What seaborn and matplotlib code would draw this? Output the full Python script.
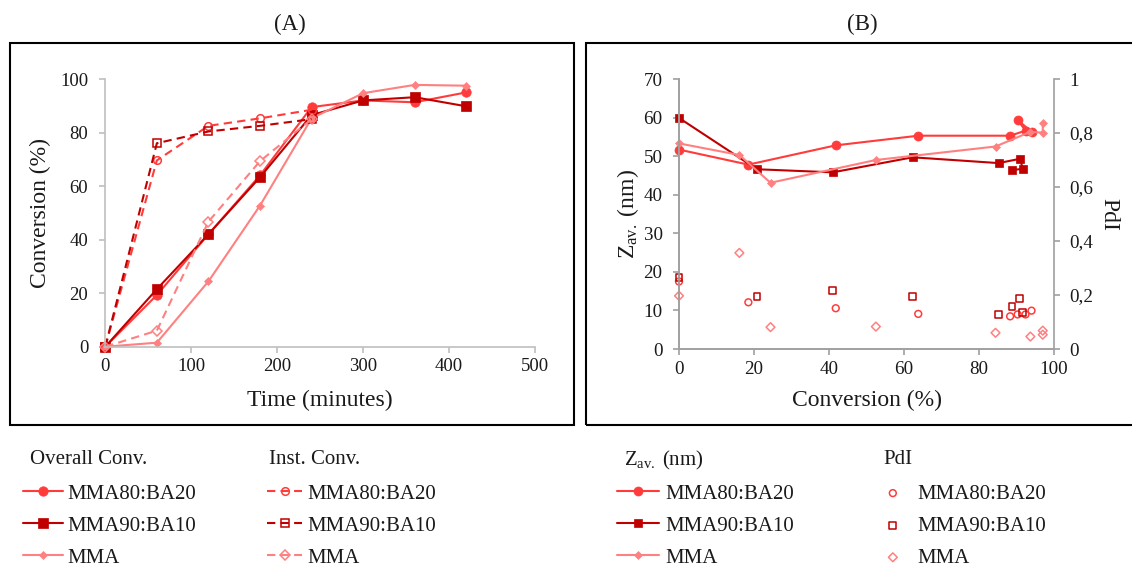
import numpy as np
import pandas as pd
import matplotlib
matplotlib.use("Agg")
import matplotlib.pyplot as plt
import seaborn as sns
from matplotlib.patches import Rectangle

# ---------------- data ----------------
# Panel A: conversion vs time
time_min = [0, 60, 120, 180, 240, 300, 360, 420]
overall_80 = [0, 19.3, 42, 64, 89.5, 92, 91.3, 95]
overall_90 = [0, 21.5, 42, 63.3, 86.5, 92, 93.2, 89.8]
overall_mma = [0, 1.5, 24.4, 52.7, 85.3, 94.7, 97.8, 97.5]

time_inst = [0, 60, 120, 180, 240]
inst_80 = [0, 69.6, 82.5, 85.3, 88.5]
inst_90 = [0, 76, 80.4, 82.5, 85]
inst_mma = [0, 6, 46.7, 69.3, 85]

# Panel B: particle size and PdI vs conversion
conv_80 = [0, 18.5, 41.8, 63.8, 88.3, 92.4, 90.3, 94.0]
zav_80 = [51.7, 47.8, 52.8, 55.3, 55.3, 56.6, 59.4, 56.3]
pdi_80 = [0.25, 0.173, 0.151, 0.130, 0.121, 0.128, 0.128, 0.142]

conv_90 = [0, 20.8, 41, 62.3, 85.2, 90.9, 91.7, 88.8]
zav_90 = [59.9, 46.6, 45.8, 49.7, 48.2, 49.3, 46.7, 46.4]
pdi_90 = [0.266, 0.194, 0.216, 0.194, 0.128, 0.186, 0.134, 0.157]

conv_mma = [0, 16.1, 24.4, 52.5, 84.4, 93.7, 97, 97]
zav_mma = [53.3, 50.3, 43.1, 49, 52.5, 56.3, 56.1, 58.5]
pdi_mma = [0.197, 0.356, 0.081, 0.083, 0.060, 0.046, 0.053, 0.068]

series_labels = ["MMA80:BA20", "MMA90:BA10", "MMA"]
pdi_ticks = [0, 0.2, 0.4, 0.6, 0.8, 1.0]
pdi_tick_labels = ["0", "0,2", "0,4", "0,6", "0,8", "1"]

# ---------------- style ----------------
sns.set_style("white")
plt.rcParams["font.family"] = ["Liberation Serif", "DejaVu Serif"]
plt.rcParams["mathtext.fontset"] = "custom"
plt.rcParams["mathtext.rm"] = "Liberation Serif"
plt.rcParams["mathtext.it"] = "Liberation Serif:italic"

C80 = "#FF3B3B"
C90 = "#C00000"
CMMA = "#FF8080"
TXT = "#1a1a1a"

fig = plt.figure(figsize=(11.32, 5.66), dpi=100)

# panel frames
fig.patches.append(Rectangle((9.5 / 1132, 1 - 424.5 / 566), (574 - 9.5) / 1132, (424.5 - 43) / 566,
                             transform=fig.transFigure, fill=False, edgecolor="black", linewidth=1.5, zorder=0))
fig.patches.append(Rectangle((585.5 / 1132, 1 - 424.5 / 566), 0.6, (424.5 - 43) / 566,
                             transform=fig.transFigure, fill=False, edgecolor="black", linewidth=1.5, zorder=0))

axA = fig.add_axes([105.3 / 1132, 1 - 346.7 / 566, 429.7 / 1132, 267.7 / 566])
axB = fig.add_axes([679 / 1132, 1 - 349 / 566, 375 / 1132, 270 / 566])
axB2 = axB.twinx()
for a in (axA, axB, axB2):
    a.set_facecolor("none")


def line(ax, x, y, color, marker, ms, ls="-", open_=False):
    kw = dict(x=x, y=y, ax=ax, color=color, marker=marker, markersize=ms, linewidth=1.5,
              linestyle=ls, sort=False, estimator=None, markeredgecolor=color,
              markeredgewidth=1.1 if open_ else 0.5, clip_on=False)
    if open_:
        kw["markerfacecolor"] = "none"
    sns.lineplot(**kw)


dash = (0, (4, 2.5))
# ----- Panel A -----
line(axA, time_min, overall_80, C80, "o", 6.8)
line(axA, time_min, overall_90, C90, "s", 6.5)
line(axA, time_min, overall_mma, CMMA, "D", 4.3)
line(axA, time_inst, inst_80, C80, "o", 5.5, ls=dash, open_=True)
line(axA, time_inst, inst_90, C90, "s", 5.2, ls=dash, open_=True)
line(axA, time_inst, inst_mma, CMMA, "D", 4.8, ls=dash, open_=True)

axA.set_xlim(0, 500)
axA.set_ylim(0, 100)
axA.set_xticks([0, 100, 200, 300, 400, 500])
axA.set_yticks([0, 20, 40, 60, 80, 100])
for s in ["top", "right"]:
    axA.spines[s].set_visible(False)
for s in ["left", "bottom"]:
    axA.spines[s].set_color("#BFBFBF")
    axA.spines[s].set_linewidth(1.2)
axA.tick_params(axis="both", labelsize=13.5, colors="#BFBFBF", labelcolor=TXT, length=4.3, width=1.2,
                direction="out")
axA.tick_params(axis="y", pad=8, left=True)
axA.tick_params(axis="x", pad=3.5, bottom=True)
axA.set_xlabel("Time (minutes)", fontsize=17, color=TXT)
axA.set_ylabel("Conversion (%)", fontsize=17, color=TXT)
axA.xaxis.set_label_coords(0.5, -0.199)
axA.xaxis.label.set_va("center")
axA.yaxis.set_label_coords(-0.152, 0.5)
axA.yaxis.label.set_va("center")

# ----- Panel B -----
line(axB, conv_80, zav_80, C80, "o", 6.5)
line(axB, conv_90, zav_90, C90, "s", 6)
line(axB, conv_mma, zav_mma, CMMA, "D", 4)

for xs, ys, c, m, sz in [(conv_80, pdi_80, C80, "o", 24), (conv_90, pdi_90, C90, "s", 24),
                         (conv_mma, pdi_mma, CMMA, "D", 20)]:
    sns.scatterplot(x=xs, y=ys, ax=axB2, marker=m, s=sz, color=c, facecolor="none",
                    edgecolor=c, linewidth=1.1, clip_on=False, legend=False)

axB.set_xlim(0, 100)
axB.set_ylim(0, 70)
axB.set_xticks([0, 20, 40, 60, 80, 100])
axB.set_yticks(range(0, 71, 10))
axB2.set_ylim(0, 1)
axB2.set_yticks(pdi_ticks)
axB2.set_yticklabels(pdi_tick_labels)
for a in (axB, axB2):
    a.spines["top"].set_visible(False)
    for s in ["left", "bottom", "right"]:
        a.spines[s].set_color("#A0A0A0")
        a.spines[s].set_linewidth(1.2)
axB.spines["right"].set_visible(False)
axB.tick_params(axis="both", labelsize=13.7, colors="#A0A0A0", labelcolor=TXT, length=4.3, width=1.2,
                direction="out")
axB.tick_params(axis="y", pad=7.5, left=True)
axB.tick_params(axis="x", pad=4, bottom=True)
axB2.tick_params(axis="y", labelsize=13.7, colors="#A0A0A0", labelcolor=TXT, length=4.3, width=1.2,
                 direction="out", pad=7, right=True)
zav_label = r"$\mathrm{Z}_{\mathrm{av.}}\ \mathrm{(nm)}$"
axB.set_xlabel("Conversion (%)", fontsize=17, color=TXT)
axB.set_ylabel(zav_label, fontsize=17, color=TXT)
axB.xaxis.set_label_coords(0.5, -0.19)
axB.xaxis.label.set_va("center")
axB.yaxis.set_label_coords(-0.136, 0.5)
axB.yaxis.label.set_va("center")
axB2.set_ylabel("PdI", fontsize=17, color=TXT, rotation=270)
axB2.yaxis.set_label_coords(1.147, 0.5)
axB2.yaxis.label.set_va("center")

# titles
fig.text(290 / 1132, 1 - 24 / 566, "(A)", ha="center", va="center", fontsize=16.5, color=TXT)
fig.text(862 / 1132, 1 - 24 / 566, "(B)", ha="center", va="center", fontsize=16.5, color=TXT)

# ----- legends -----
leg_kw = dict(loc="upper left", frameon=False, fontsize=15, borderpad=0, borderaxespad=0,
              labelspacing=0.6, labelcolor=TXT, bbox_transform=fig.transFigure)
lines_A = axA.get_lines()
lines_B = axB.get_lines()
pts_B = axB2.collections

legend_top = 1 - 484 / 566
fig.legend(lines_A[:3], series_labels, bbox_to_anchor=(23 / 1132, legend_top),
           handlelength=1.9, handletextpad=0.25, **leg_kw)
fig.legend(lines_A[3:6], series_labels, bbox_to_anchor=(267 / 1132, legend_top),
           handlelength=1.7, handletextpad=0.25, **leg_kw)
fig.legend(lines_B[:3], series_labels, bbox_to_anchor=(617 / 1132, legend_top),
           handlelength=2.0, handletextpad=0.3, **leg_kw)
fig.legend(pts_B[:3], series_labels, bbox_to_anchor=(872 / 1132, legend_top),
           handlelength=2.0, handletextpad=0.2, scatterpoints=1, **leg_kw)

title_y = 1 - 460 / 566
fig.text(30 / 1132, title_y, "Overall Conv.", ha="left", va="center", fontsize=15, color=TXT)
fig.text(269 / 1132, title_y, "Inst. Conv.", ha="left", va="center", fontsize=15, color=TXT)
fig.text(624 / 1132, title_y, zav_label, ha="left", va="center", fontsize=15, color=TXT)
fig.text(883 / 1132, title_y, "PdI", ha="left", va="center", fontsize=15, color=TXT)

fig.savefig("out.png", dpi=100)
